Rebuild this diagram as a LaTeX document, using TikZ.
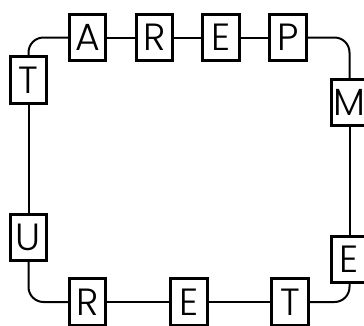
\documentclass[tikz,border=0pt]{standalone}
\usepackage{fontspec}
\setmainfont{Poppins Light}
\begin{document}
\begin{tikzpicture}[x=1bp,y=-1bp,
  letter/.style={draw=black,line width=2.6bp,fill=white,minimum width=36.5bp,minimum height=46.5bp,inner sep=0pt,font=\fontsize{38}{38}\selectfont},
  wire/.style={line width=2bp,rounded corners=15bp}]
\useasboundingbox (0,0) rectangle (364,326);
\node[letter] (t1) at (28.5,80) {T};
\node[letter] (a) at (87.5,37.5) {A};
\node[letter] (r1) at (154.5,37.5) {R};
\node[letter] (e1) at (221,37.5) {E};
\node[letter] (p) at (288,37.5) {P};
\node[letter] (m) at (349.5,102.5) {M};
\node[letter] (e2) at (349.5,259.5) {E};
\node[letter] (t2) at (290,302) {T};
\node[letter] (e3) at (189,302) {E};
\node[letter] (r2) at (87.5,302) {R};
\node[letter] (u) at (28.5,237.5) {U};
\draw[wire] (t1.north) |- (a.west);
\draw[wire] (a) -- (r1) (r1) -- (e1) (e1) -- (p);
\draw[wire] (p.east) -| (m.north);
\draw[wire] (m) -- (e2);
\draw[wire] (e2.south) |- (t2.east);
\draw[wire] (t2) -- (e3) (e3) -- (r2);
\draw[wire] (r2.west) -| (u.south);
\draw[wire] (u) -- (t1);
\end{tikzpicture}
\end{document}
